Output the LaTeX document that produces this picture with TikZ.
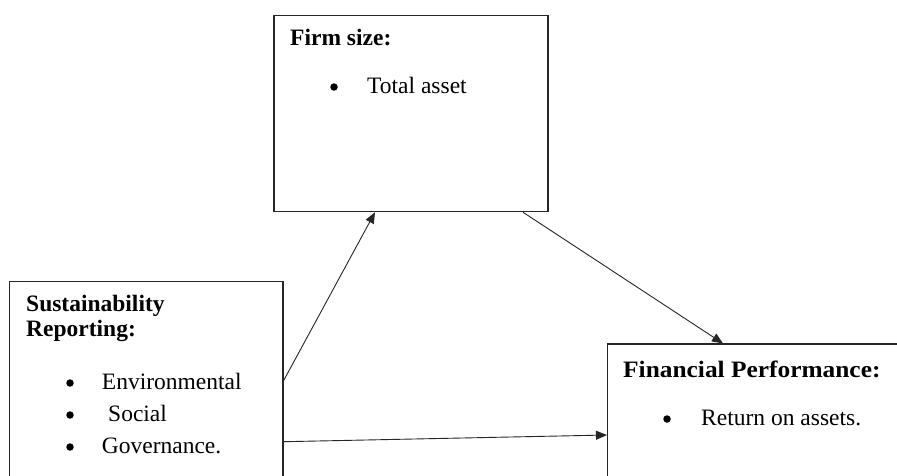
\documentclass[tikz,border=0pt]{standalone}
\usepackage{fontspec}
\setmainfont{Liberation Serif}
\usetikzlibrary{arrows.meta}
\begin{document}
\begin{tikzpicture}[x=1pt,y=-1pt,
  box/.style={draw=black!85, line width=1.1pt, rectangle, inner sep=0pt},
  lbl/.style={anchor=base west, inner sep=0pt, font=\fontsize{23.5}{28}\selectfont},
  hdr/.style={anchor=base west, inner sep=0pt, font=\fontsize{23.5}{28}\selectfont\bfseries},
  bul/.style={circle, fill=black, inner sep=0pt, minimum size=7.5pt},
  arr/.style={draw=black!85, line width=0.9pt, -{Triangle[length=11pt,width=9pt]}}]
\clip (0,0) rectangle (897,475);
\fill[white] (0,0) rectangle (897,475);
% boxes
\node[box, minimum width=274pt, minimum height=196pt] (firm) at (411,113.7) {};
\node[box, minimum width=273.7pt, minimum height=240pt] (sust) at (146.15,401.7) {};
\node[box, minimum width=320pt, minimum height=200pt] (fin) at (767.5,444) {};
% firm texts
\node[hdr] (firmh) at (290,45) {Firm size:};
\node[bul] (fb1) at (334,87) {};
\node[lbl] (ft1) at (367,93) {Total asset};
% sustainability texts
\node[hdr] (sh1) at (26,311.7) {Sustainability};
\node[hdr] (sh2) at (26,336.7) {Reporting:};
\node[bul] (sb1) at (70,383) {};
\node[lbl] (st1) at (101.7,389) {Environmental};
\node[bul] (sb2) at (70,415) {};
\node[lbl] (st2) at (108,421) {Social};
\node[bul] (sb3) at (70,447) {};
\node[lbl] (st3) at (101.7,453) {Governance.};
% financial texts
\node[hdr] (finh) at (623,377) {\scalebox{1.08}[1]{Financial Performance:}};
\node[bul] (nb1) at (667,419) {};
\node[lbl] (nt1) at (701,425) {Return on assets.};
% connectors
\coordinate (s1) at (sust.east |- 0,380.7);
\coordinate (f1) at (firm.south -| 375,0);
\coordinate (s2) at (sust.east |- 0,441.7);
\coordinate (n1) at (fin.west |- 0,435);
\coordinate (f2) at (firm.south -| 523,0);
\coordinate (n2) at (fin.north -| 723,0);
\draw[arr] (s1) -- (f1);
\draw[arr] (s2) -- (n1);
\draw[arr] (f2) -- (n2);
\end{tikzpicture}
\end{document}
